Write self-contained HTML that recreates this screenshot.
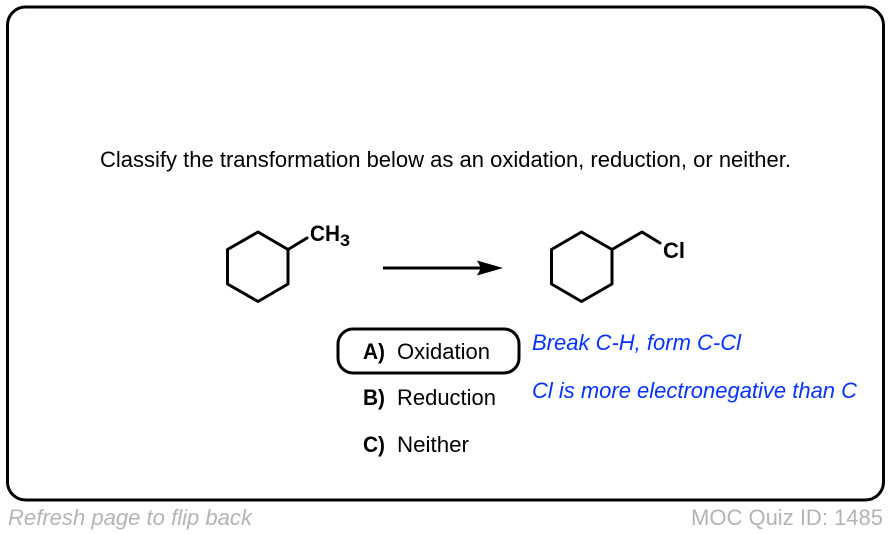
<!DOCTYPE html>
<html>
<head>
<meta charset="utf-8">
<style>
html,body{margin:0;padding:0;background:#fff;width:890px;height:534px;overflow:hidden}
svg{display:block}
text{font-family:"Liberation Sans",Arial,sans-serif}
</style>
</head>
<body>
<svg width="890" height="534" viewBox="0 0 890 534" xmlns="http://www.w3.org/2000/svg">
<rect x="0" y="0" width="890" height="534" fill="#fff"/>
<rect x="7.5" y="7" width="876" height="493" rx="18" ry="18" fill="#fff" stroke="#000" stroke-width="3"/>
<text x="100" y="167" font-size="22" fill="#000" textLength="691" lengthAdjust="spacingAndGlyphs">Classify the transformation below as an oxidation, reduction, or neither.</text>

<g fill="none" stroke="#000" stroke-width="3" stroke-linejoin="round" stroke-linecap="round">
<polygon points="258,232 288,249.5 288,284 258,301.5 227.5,284 227.5,249.5"/>
<line x1="288" y1="249.5" x2="307" y2="238"/>
<polygon points="581.5,232 612,249.5 612,284 581.5,301.5 551.5,284 551.5,249.5"/>
<polyline points="612,249.5 642,232 660,243"/>
</g>
<text x="310" y="241" font-size="22" font-weight="bold" fill="#000" textLength="30" lengthAdjust="spacingAndGlyphs">CH</text>
<text x="340" y="246" font-size="17" font-weight="bold" fill="#000" textLength="10" lengthAdjust="spacingAndGlyphs">3</text>
<text x="663" y="258" font-size="22" font-weight="bold" fill="#000" textLength="22" lengthAdjust="spacingAndGlyphs">Cl</text>

<line x1="383" y1="268" x2="482" y2="268" stroke="#000" stroke-width="3"/>
<polygon points="503,268 477,260.5 481,268 477,275.5" fill="#000"/>

<rect x="338" y="329" width="181" height="44" rx="15" ry="15" fill="#fff" stroke="#000" stroke-width="3"/>
<text x="363" y="359" font-size="22" font-weight="bold" fill="#000" textLength="22" lengthAdjust="spacingAndGlyphs">A)</text>
<text x="397" y="359" font-size="22" fill="#000" textLength="93" lengthAdjust="spacingAndGlyphs">Oxidation</text>
<text x="363" y="405" font-size="22" font-weight="bold" fill="#000" textLength="22" lengthAdjust="spacingAndGlyphs">B)</text>
<text x="397" y="405" font-size="22" fill="#000" textLength="99" lengthAdjust="spacingAndGlyphs">Reduction</text>
<text x="363" y="452" font-size="22" font-weight="bold" fill="#000" textLength="22" lengthAdjust="spacingAndGlyphs">C)</text>
<text x="397" y="452" font-size="22" fill="#000" textLength="72" lengthAdjust="spacingAndGlyphs">Neither</text>

<text x="532" y="350" font-size="22" font-style="italic" fill="#0433ff" textLength="209" lengthAdjust="spacingAndGlyphs">Break C-H, form C-Cl</text>
<text x="532" y="398" font-size="22" font-style="italic" fill="#0433ff" textLength="325" lengthAdjust="spacingAndGlyphs">Cl is more electronegative than C</text>

<text x="8" y="525" font-size="22" font-style="italic" fill="#b4b4b4" textLength="244" lengthAdjust="spacingAndGlyphs">Refresh page to flip back</text>
<text x="691" y="525" font-size="22" fill="#b4b4b4" textLength="192" lengthAdjust="spacingAndGlyphs">MOC Quiz ID: 1485</text>
</svg>
</body>
</html>
